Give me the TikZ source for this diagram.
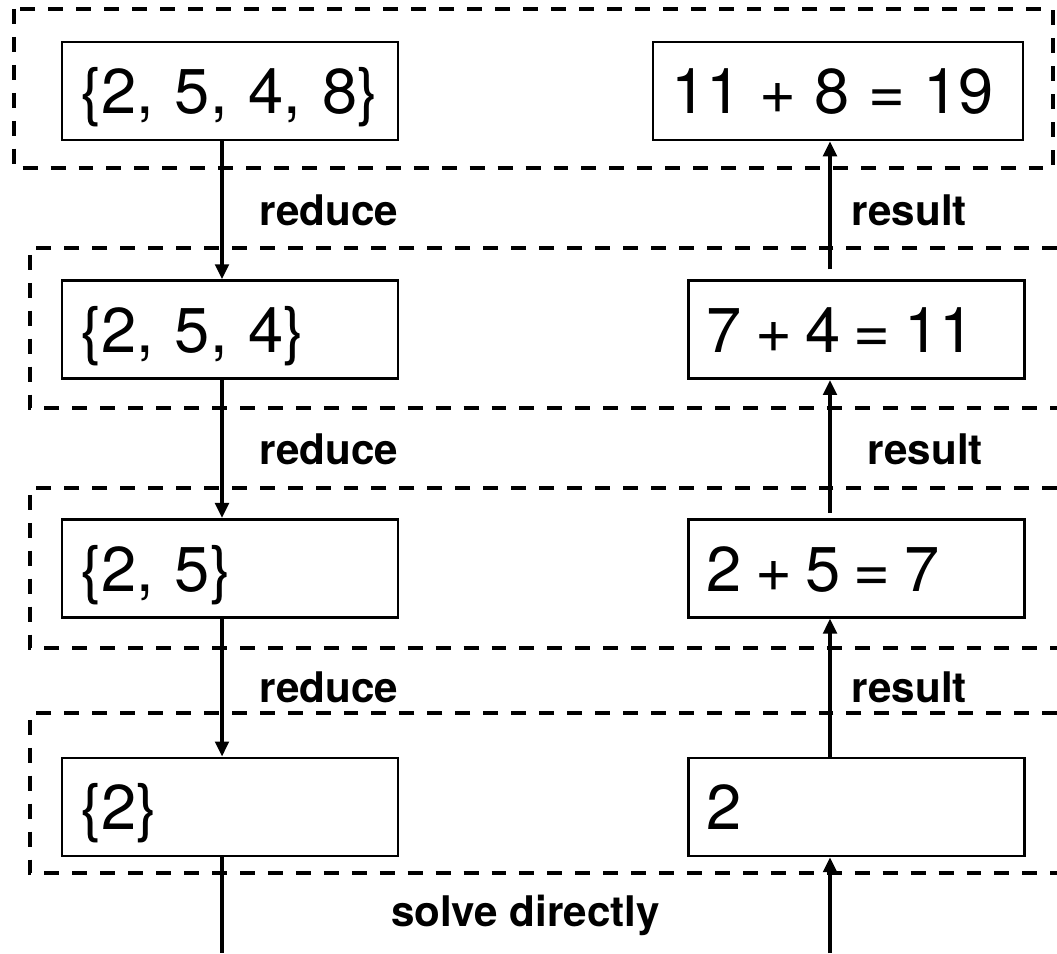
\documentclass[tikz,border=0pt]{standalone}
\usepackage{fontspec}
\setmainfont{TeX Gyre Heros}
\usetikzlibrary{positioning,arrows.meta}

\begin{document}
\begin{tikzpicture}[
  font=\fontsize{36}{43}\selectfont,
  cell/.style={draw=black, line width=1.5pt, minimum height=1.96cm,
               inner xsep=0.36cm, text width=6cm, align=left,
               text height=26pt, text depth=0pt},
  sumcell/.style={cell, execute at begin node={\spaceskip=#1\relax}},
  sumcell/.default=0.21em,
  level/.style={draw=black, line width=2.6pt, dash pattern=on 8.5pt off 7.4pt},
  arr/.style={-{Triangle[length=0.3cm, width=0.27cm]}, line width=2pt},
  lbl/.style={font=\fontsize{24}{29}\selectfont\bfseries, inner sep=0pt}
]
\useasboundingbox (0,0) rectangle (21.14,-19.06);
% ---------------- recursion levels ----------------
\draw[level] (0.28,-0.18) rectangle (21.06,-3.36);
\draw[level] (21.14,-4.96) -| (0.6,-8.16) -- (21.14,-8.16);
\draw[level] (21.14,-9.76) -| (0.6,-12.96) -- (21.14,-12.96);
\draw[level] (21.14,-14.26) -| (0.6,-17.46) -- (21.14,-17.46);
% ---------------- sets (left) ----------------
\node[cell] (set1) at (4.6,-1.82) {\{2, 5, 4, 8\}};
\node[cell, below=2.76cm of set1] (set2) {\{2, 5, 4\}};
\node[cell, below=2.76cm of set2] (set3) {\{2, 5\}};
\node[cell, below=2.76cm of set3] (set4) {\{2\}};
% ---------------- sums (right) ----------------
\node[sumcell=0.29em, text width=6.68cm] (sum1) at (16.76,-1.82) {11 + 8 = 19};
\node[sumcell, right=5.76cm of set2] (sum2) {7 + 4 = 11};
\node[sumcell, right=5.76cm of set3] (sum3) {2 + 5 = 7};
\node[sumcell, right=5.76cm of set4] (sum4) {2};
% ---------------- connectors ----------------
\coordinate (lx) at (4.44,0);
\coordinate (rx) at (16.6,0);
\coordinate (lout) at (4.44,-19.06);
\coordinate (rin) at (16.6,-19.06);
\draw[arr] (set1.south -| lx) -- node[lbl, right=0.72cm]{reduce} (set2.north -| lx);
\draw[arr] (set2.south -| lx) -- node[lbl, right=0.72cm]{reduce} (set3.north -| lx);
\draw[arr] (set3.south -| lx) -- node[lbl, right=0.72cm]{reduce} (set4.north -| lx);
\draw[arr, shorten <=0.2cm] (sum2.north -| rx) -- node[lbl, right=0.4cm]{result} (sum1.south -| rx);
\draw[arr, shorten <=0.1cm] (sum3.north -| rx) -- node[lbl, right=0.72cm]{result} (sum2.south -| rx);
\draw[arr] (sum4.north -| rx) -- node[lbl, right=0.4cm]{result} (sum3.south -| rx);
\draw[line width=2pt] (set4.south -| lx) -- (lout);
\draw[arr] (rin) -- (sum4.south -| rx);
\node[lbl] (solve) at (10.51,-18.3) {solve directly};
\end{tikzpicture}
\end{document}
